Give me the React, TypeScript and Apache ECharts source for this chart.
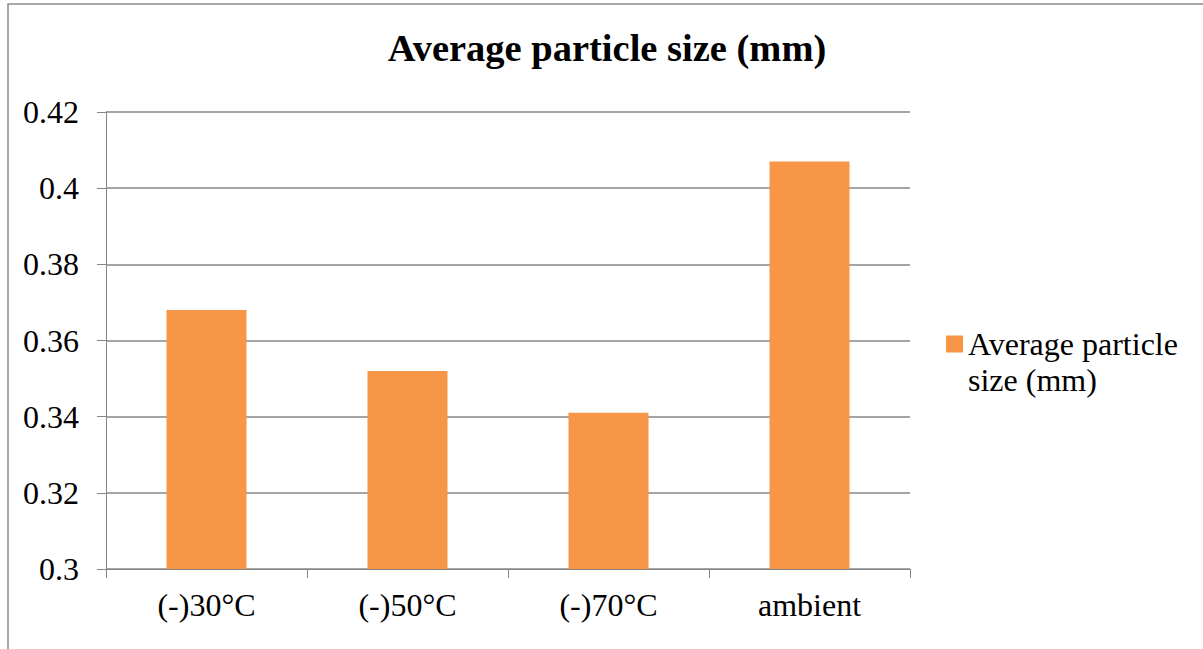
import React, { useEffect, useRef } from "react";
import * as echarts from "echarts";

const categories = ["(-)30°C", "(-)50°C", "(-)70°C", "ambient"];
const values = [0.368, 0.352, 0.341, 0.407];
const seriesName = "Average particle size (mm)";
const titleText = "Average particle size (mm)";
const yMin = 0.3;
const yMax = 0.42;
const yInterval = 0.02;

const FONT = "Liberation Serif";

export default function App() {
  const ref = useRef<HTMLDivElement>(null);
  useEffect(() => {
    if (!ref.current) return;
    const chart = echarts.init(ref.current, null, { renderer: "svg" });
    chart.setOption({
      animation: false,
      backgroundColor: "#ffffff",
      textStyle: { fontFamily: FONT },
      title: {
        text: titleText,
        left: 602,
        textAlign: "center",
        top: 23,
        textStyle: { fontFamily: FONT, fontSize: 38.5, fontWeight: "bold", color: "#000" },
      },
      legend: {
        left: 946,
        top: 290,
        padding: 0,
        icon: "rect",
        itemWidth: 17,
        itemHeight: 17,
        formatter: () => "\nAverage particle\nsize (mm)",
        textStyle: {
          fontFamily: FONT,
          fontSize: 32,
          color: "#000",
          lineHeight: 36,
        },
        data: [seriesName],
      },
      grid: { left: 106, right: 293, top: 112, bottom: 80, containLabel: false },
      xAxis: {
        type: "category",
        data: categories,
        axisLine: { lineStyle: { color: "#868686", width: 1 } },
        axisTick: { show: true, length: 9, lineStyle: { color: "#868686" } },
        axisLabel: { fontFamily: FONT, fontSize: 32, color: "#000", margin: 20 },
      },
      yAxis: {
        type: "value",
        min: yMin,
        max: yMax,
        interval: yInterval,
        axisLine: { show: true, lineStyle: { color: "#868686", width: 1 } },
        axisTick: { show: true, length: 9, lineStyle: { color: "#868686" } },
        axisLabel: {
          fontFamily: FONT,
          fontSize: 32,
          color: "#000",
          margin: 27,
          formatter: (v: number) => String(parseFloat(v.toFixed(2))),
        },
        splitLine: { show: true, lineStyle: { color: "#868686", width: 1.5 } },
      },
      series: [
        {
          name: seriesName,
          type: "bar",
          data: values,
          barWidth: 80,
          itemStyle: { color: "#F79646" },
        },
      ],
      graphic: [
        {
          type: "rect",
          shape: { x: 8, y: 4, width: 1400, height: 800 },
          style: { fill: "none", stroke: "#8c8c8c", lineWidth: 1.5 },
          silent: true,
          z: 100,
        },
      ],
    });
    return () => chart.dispose();
  }, []);
  return (
    <div
      ref={ref}
      style={{ position: "absolute", left: 0, top: 0, width: 1203, height: 649 }}
    />
  );
}
